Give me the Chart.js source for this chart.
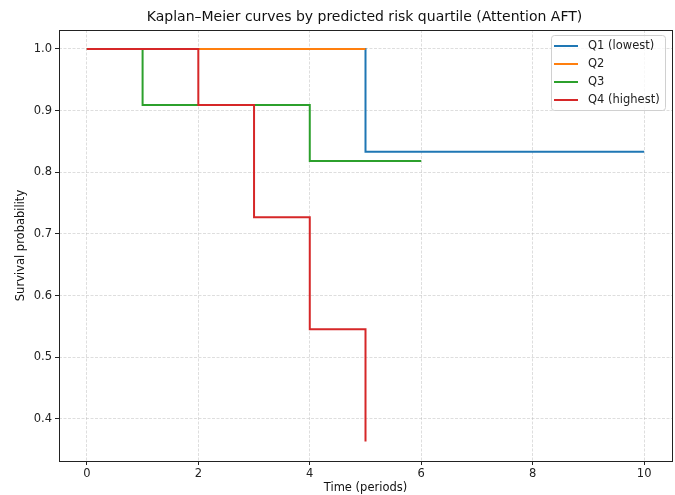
<!DOCTYPE html>
<html><head><meta charset="utf-8">
<script src="https://cdn.jsdelivr.net/npm/chart.js@4/dist/chart.umd.min.js"></script>
<style>html,body{margin:0;padding:0;background:#fff}#wrap{width:675px;height:495px}</style>
</head><body><div id="wrap"><canvas id="c" width="675" height="495"></canvas></div>
<script>
const seriesNames = ["Q1 (lowest)", "Q2", "Q3", "Q4 (highest)"];
const seriesColors = ["#1f77b4", "#ff7f0e", "#2ca02c", "#d62728"];
const q1Times = [0, 5, 10];
const q1Surv = [1.0, 0.8333, 0.8333];
const q2Times = [0, 5];
const q2Surv = [1.0, 1.0];
const q3Times = [0, 1, 4, 6];
const q3Surv = [1.0, 0.9091, 0.8182, 0.8182];
const q4Times = [0, 2, 3, 4, 5];
const q4Surv = [1.0, 0.9091, 0.7273, 0.5455, 0.3636];
const xTicks = [0, 2, 4, 6, 8, 10];
const yTicks = [0.4, 0.5, 0.6, 0.7, 0.8, 0.9, 1.0];
const titleText = 'Kaplan–Meier curves by predicted risk quartile (Attention AFT)';

const allTimes = [q1Times, q2Times, q3Times, q4Times];
const allSurv = [q1Surv, q2Surv, q3Surv, q4Surv];
const FONT = "'DejaVu Sans', sans-serif";

const datasets = seriesNames.map((n, i) => ({
  label: n,
  data: allTimes[i].map((t, k) => ({x: t, y: allSurv[i][k]})),
  borderColor: seriesColors[i],
  backgroundColor: seriesColors[i],
  borderWidth: 2,
  pointRadius: 0,
  fill: false,
  stepped: 'before',
  order: seriesNames.length - i
}));

const frame = {
  id: 'frame',
  afterDatasetsDraw(chart) {
    const {ctx, chartArea: a} = chart;
    ctx.save();
    ctx.strokeStyle = '#222';
    ctx.lineWidth = 1;
    ctx.strokeRect(Math.round(a.left) + 0.5, Math.round(a.top) + 0.5, Math.round(a.right - a.left), Math.round(a.bottom - a.top));
    // title
    ctx.fillStyle = '#111';
    ctx.font = "14px " + FONT;
    ctx.textAlign = 'center';
    ctx.textBaseline = 'middle';
    ctx.fillText(titleText, (a.left + a.right) / 2 - 1, 17);
    // legend
    ctx.textAlign = 'left';
    const bx = 551.5, by = 35.5, bw = 114, bh = 75, r = 3;
    ctx.beginPath();
    ctx.moveTo(bx + r, by);
    ctx.arcTo(bx + bw, by, bx + bw, by + bh, r);
    ctx.arcTo(bx + bw, by + bh, bx, by + bh, r);
    ctx.arcTo(bx, by + bh, bx, by, r);
    ctx.arcTo(bx, by, bx + bw, by, r);
    ctx.closePath();
    ctx.fillStyle = 'rgba(255,255,255,0.8)';
    ctx.fill();
    ctx.strokeStyle = '#d0d0d0';
    ctx.stroke();
    ctx.font = "11.5px " + FONT;
    ctx.fillStyle = '#222';
    seriesNames.forEach((n, i) => {
      const y = 46 + i * 18;
      ctx.strokeStyle = seriesColors[i];
      ctx.lineWidth = 2;
      ctx.beginPath();
      ctx.moveTo(554, y); ctx.lineTo(578, y); ctx.stroke();
      ctx.fillText(n, 588, y);
    });
    ctx.restore();
  }
};

new Chart(document.getElementById('c'), {
  type: 'line',
  data: {datasets},
  plugins: [frame],
  options: {
    responsive: false,
    animation: false,
    devicePixelRatio: 1,
    layout: {padding: {left: 0, right: 3, top: 30, bottom: 0}},
    plugins: {
      legend: {display: false},
      tooltip: {enabled: false},
      title: {display: false}
    },
    scales: {
      x: {
        type: 'linear', min: -0.5, max: 10.5,
        afterBuildTicks: s => { s.ticks = xTicks.map(v => ({value: v})); },
        afterFit: s => { s.height = 34; },
        ticks: {color: '#222', font: {family: FONT, size: 11.5}, padding: 2, maxRotation: 0,
          callback: v => String(v)},
        grid: {color: 'rgba(180,180,180,0.55)', lineWidth: 0.8, tickColor: '#222', tickLength: 4, tickWidth: 1,
          tickBorderDash: []},
        border: {display: false, dash: [3, 1.5]},
        title: {display: true, text: 'Time (periods)', color: '#111', font: {family: FONT, size: 11.5}, padding: {top: 3, bottom: 0}}
      },
      y: {
        type: 'linear', min: 0.3318, max: 1.0308,
        afterBuildTicks: s => { s.ticks = yTicks.map(v => ({value: v})); },
        afterFit: s => { s.width = 59; },
        ticks: {color: '#222', font: {family: FONT, size: 11.5}, padding: 3,
          callback: v => Number(v).toFixed(1)},
        grid: {color: 'rgba(180,180,180,0.55)', lineWidth: 0.8, tickColor: '#222', tickLength: 4, tickWidth: 1,
          tickBorderDash: []},
        border: {display: false, dash: [3, 1.5]},
        title: {display: true, text: 'Survival probability', color: '#111', font: {family: FONT, size: 11.5}, padding: {top: 14, bottom: 0}}
      }
    }
  }
});
</script></body></html>
